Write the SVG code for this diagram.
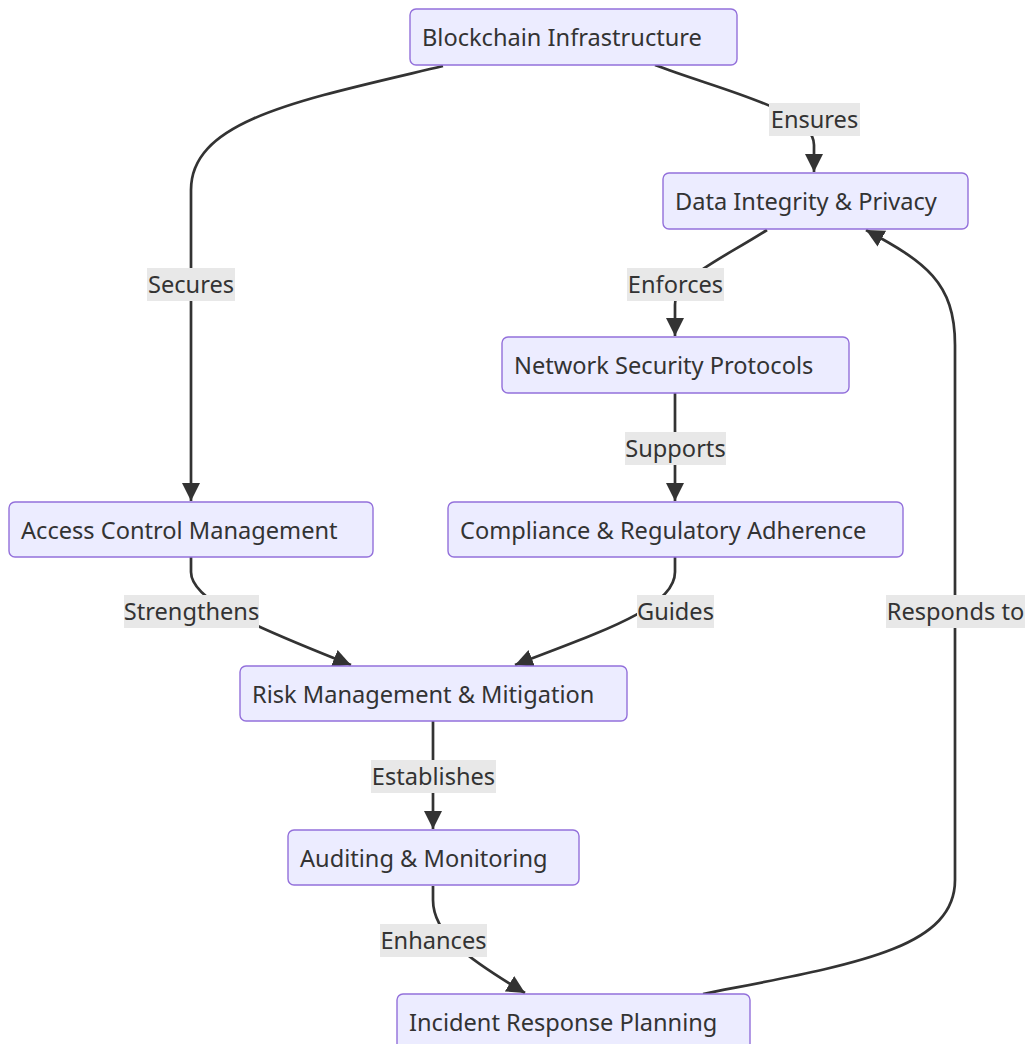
<svg xmlns="http://www.w3.org/2000/svg" width="1025" height="1044" viewBox="0 0 1025 1044">
  <style>
    .node rect { fill: #ECECFF; stroke: #9370DB; stroke-width: 1.4; }
    .node text { fill: #333333; font-family: "Noto Sans", "Open Sans", sans-serif; font-size: 23.6px; dominant-baseline: central; }
    .edge { fill: none; stroke: #333333; stroke-width: 2.7; }
    .lbl rect { fill: #E8E8E8; }
    .lbl text { fill: #333333; font-family: "Noto Sans", "Open Sans", sans-serif; font-size: 23.6px; text-anchor: middle; dominant-baseline: central; }
  </style>
  <defs>
    <marker id="arrow" viewBox="0 0 10 10" refX="10" refY="5" markerUnits="userSpaceOnUse" markerWidth="18" markerHeight="19" orient="auto">
      <path d="M0,0 L10,5 L0,10 z" fill="#333333"/>
    </marker>
  </defs>
  <rect width="1025" height="1044" fill="#FFFFFF"/>

  <!-- connectors -->
  <g id="connectors">
    <path class="edge" marker-end="url(#arrow)" d="M443,66 C300,100 191,120 191,190 L191,501"/>
    <path class="edge" marker-end="url(#arrow)" d="M655,65 C720,90 814,110 814,145 L814,172"/>
    <path class="edge" marker-end="url(#arrow)" d="M767,230 C720,260 675,278 675,305 L675,336"/>
    <path class="edge" marker-end="url(#arrow)" d="M675,393 L675,501"/>
    <path class="edge" marker-end="url(#arrow)" d="M191,557 L191,572 C191,600 250,625 351,665"/>
    <path class="edge" marker-end="url(#arrow)" d="M675,557 L675,572 C675,608 600,632 515,665"/>
    <path class="edge" marker-end="url(#arrow)" d="M433,721 L433,829"/>
    <path class="edge" marker-end="url(#arrow)" d="M433,886 L433,900 C433,935 470,960 525,993"/>
    <path class="edge" marker-end="url(#arrow)" d="M703,994 C850,965 955,950 955,880 L955,345 C955,282 925,262 866,230"/>
  </g>

  <!-- connector labels -->
  <g id="edge-labels">
    <g class="lbl"><rect x="769" y="103" width="91" height="33"/><text x="814.5" y="119">Ensures</text></g>
    <g class="lbl"><rect x="147" y="268" width="88" height="33"/><text x="191" y="284">Secures</text></g>
    <g class="lbl"><rect x="627" y="268" width="97" height="33"/><text x="675.5" y="284">Enforces</text></g>
    <g class="lbl"><rect x="625" y="432" width="101" height="33"/><text x="675.5" y="448">Supports</text></g>
    <g class="lbl"><rect x="124" y="595" width="135" height="33"/><text x="191.5" y="611">Strengthens</text></g>
    <g class="lbl"><rect x="637" y="595" width="77" height="33"/><text x="675.5" y="611">Guides</text></g>
    <g class="lbl"><rect x="886" y="595" width="139" height="33"/><text x="955.5" y="611">Responds to</text></g>
    <g class="lbl"><rect x="371" y="760" width="125" height="33"/><text x="433.5" y="776">Establishes</text></g>
    <g class="lbl"><rect x="380" y="924" width="107" height="33"/><text x="433.5" y="940">Enhances</text></g>
  </g>

  <!-- nodes -->
  <g id="blockchain" class="node"><rect x="410" y="9" width="327" height="56" rx="6"/><text x="422" y="37">Blockchain Infrastructure</text></g>
  <g id="data-integrity" class="node"><rect x="663" y="173" width="305" height="56" rx="6"/><text x="675" y="201">Data Integrity &amp; Privacy</text></g>
  <g id="network-security" class="node"><rect x="502" y="337" width="347" height="56" rx="6"/><text x="514" y="365">Network Security Protocols</text></g>
  <g id="access-control" class="node"><rect x="9" y="502" width="364" height="55" rx="6"/><text x="21" y="530">Access Control Management</text></g>
  <g id="compliance" class="node"><rect x="448" y="502" width="455" height="55" rx="6"/><text x="460" y="530">Compliance &amp; Regulatory Adherence</text></g>
  <g id="risk" class="node"><rect x="240" y="666" width="387" height="55" rx="6"/><text x="252" y="694">Risk Management &amp; Mitigation</text></g>
  <g id="auditing" class="node"><rect x="288" y="830" width="291" height="55" rx="6"/><text x="300" y="858">Auditing &amp; Monitoring</text></g>
  <g id="incident" class="node"><rect x="397" y="994" width="353" height="56" rx="6"/><text x="409" y="1022">Incident Response Planning</text></g>
</svg>
